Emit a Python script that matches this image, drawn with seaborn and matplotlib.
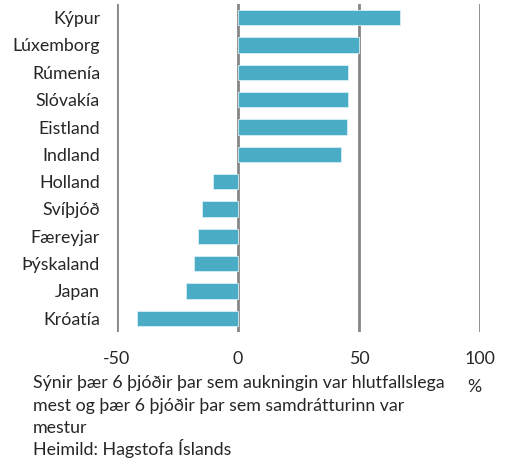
import matplotlib
matplotlib.use("Agg")
import matplotlib.pyplot as plt
import seaborn as sns
import pandas as pd

countries = ["Kýpur", "Lúxemborg", "Rúmenía", "Slóvakía", "Eistland", "Indland",
             "Holland", "Svíþjóð", "Færeyjar", "Þýskaland", "Japan", "Króatía"]
change_pct = [66.8, 50.0, 45.7, 45.4, 45.2, 42.8,
              -10.1, -14.8, -16.4, -18.2, -21.5, -41.7]
x_ticks = [-50, 0, 50, 100]

note_lines = ["Sýnir þær 6 þjóðir þar sem aukningin var hlutfallslega",
              "mest og þær 6 þjóðir þar sem samdrátturinn var",
              "mestur",
              "Heimild: Hagstofa Íslands"]

df = pd.DataFrame({"land": countries, "breyting": change_pct})

sns.set_style("white")
plt.rcParams["font.family"] = ["Lato", "DejaVu Sans"]
fs = 12.8

fig = plt.figure(figsize=(5.07, 4.62), dpi=100)
ax = fig.add_axes([116.7 / 507, 1 - 332 / 462, (480 - 116.7) / 507, (332 - 4) / 462])

sns.barplot(data=df, x="breyting", y="land", orient="h", color="#4BACC6",
            saturation=1, width=0.55, edgecolor="#d6eef4", linewidth=0.6, ax=ax, zorder=3)

ax.set_xlim(-50, 100)
ax.set_xticks(x_ticks)
ax.set_xticklabels([str(t) for t in x_ticks], fontsize=fs)
ax.grid(axis="x", color="#868686", linewidth=2, zorder=0)
ax.grid(axis="y", visible=False)
for s in ax.spines.values():
    s.set_visible(False)
ax.tick_params(axis="x", length=0, pad=14)
ax.tick_params(axis="y", length=0, pad=12, labelsize=fs)
ax.set_xlabel("")
ax.set_ylabel("")

# footnote lines placed one by one (baselines)
for line, base in zip(note_lines, [388, 411, 433, 455]):
    fig.text(33 / 507, 1 - base / 462, line, fontsize=fs, va="baseline", ha="left")
fig.text(474 / 507, 1 - 392 / 462, "%", fontsize=fs, va="baseline", ha="center")

fig.savefig("out.png", dpi=100)
